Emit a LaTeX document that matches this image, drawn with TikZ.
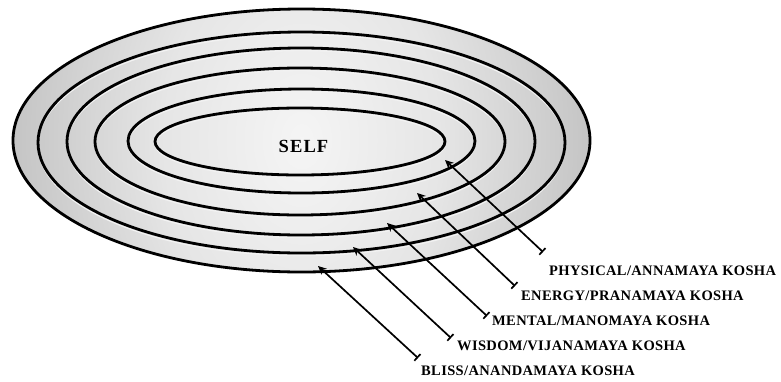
\documentclass[tikz,border=0pt]{standalone}
\usepackage{fontspec}
\setmainfont{Liberation Serif}
\newfontfamily\koshafont[LetterSpace=2.5]{Liberation Serif Bold}
\newfontfamily\selffont[LetterSpace=6]{Liberation Serif Bold}
\usetikzlibrary{arrows.meta}
\pgfdeclareradialshading{koshashade}{\pgfpoint{0bp}{0bp}}{%
  color(0bp)=(white!96!black);
  color(12bp)=(white!90!black);
  color(25bp)=(white!77!black);
  color(35bp)=(white!69!black);
  color(45bp)=(white!60!black);
  color(50bp)=(white!48!black)}
\begin{document}
\begin{tikzpicture}[x=1pt,y=-1pt,
  ring/.style={draw=black,line width=2.8pt},
  halo/.style={draw=white!95!black,line width=1.2pt},
  pointer/.style={line width=1.7pt,{Stealth[length=8.5pt,width=8pt]}-{Bar[width=9pt]}},
  lbl/.style={font=\koshafont\fontsize{14.5}{16}\selectfont,anchor=base west,inner sep=0pt},
  selflbl/.style={font=\selffont\fontsize{18.5}{20}\selectfont,inner sep=0pt}]
\useasboundingbox (0,0) rectangle (781,381);
% shading
\begin{scope}
  \clip (301.5,140.5) ellipse [x radius=288.5, y radius=131.5];
  \shade[shading=koshashade] (11.5,-260) rectangle (591.5,540);
\end{scope}
% white halos
\foreach \cx/\cy/\rx/\ry in {300/141.5/145/33.5, 301.5/141/173.5/52, 300/141.5/205/73.5, 301/141.5/234/93.5, 301.5/142.5/263.5/110.5}
  \draw[halo] (\cx,\cy+2.6) ellipse [x radius=\rx, y radius=\ry];
% rings
\foreach \cx/\cy/\rx/\ry in {300/141.5/145/33.5, 301.5/141/173.5/52, 300/141.5/205/73.5, 301/141.5/234/93.5, 301.5/142.5/263.5/110.5, 301.5/140.5/288.5/131.5}
  \draw[ring] (\cx,\cy) ellipse [x radius=\rx, y radius=\ry];
% self
\node[selflbl] (self) at (303.5,146.5) {SELF};
% labels
\node[lbl] (physical) at (549,275) {PHYSICAL/ANNAMAYA KOSHA};
\node[lbl] (energy) at (521,300) {ENERGY/PRANAMAYA KOSHA};
\node[lbl] (mental) at (492,325) {MENTAL/MANOMAYA KOSHA};
\node[lbl] (wisdom) at (457,350) {WISDOM/VIJANAMAYA KOSHA};
\node[lbl] (bliss) at (421,375) {BLISS/ANANDAMAYA KOSHA};
% pointers
\coordinate (tipP) at (445,160); \coordinate (endP) at (543,252);
\coordinate (tipE) at (417,193); \coordinate (endE) at (515,286);
\coordinate (tipM) at (387,223); \coordinate (endM) at (487,316);
\coordinate (tipW) at (353,247); \coordinate (endW) at (451,338);
\coordinate (tipB) at (318,266); \coordinate (endB) at (418,358);
\draw[pointer] (tipP) -- (endP);
\draw[pointer] (tipE) -- (endE);
\draw[pointer] (tipM) -- (endM);
\draw[pointer] (tipW) -- (endW);
\draw[pointer] (tipB) -- (endB);
\end{tikzpicture}
\end{document}
